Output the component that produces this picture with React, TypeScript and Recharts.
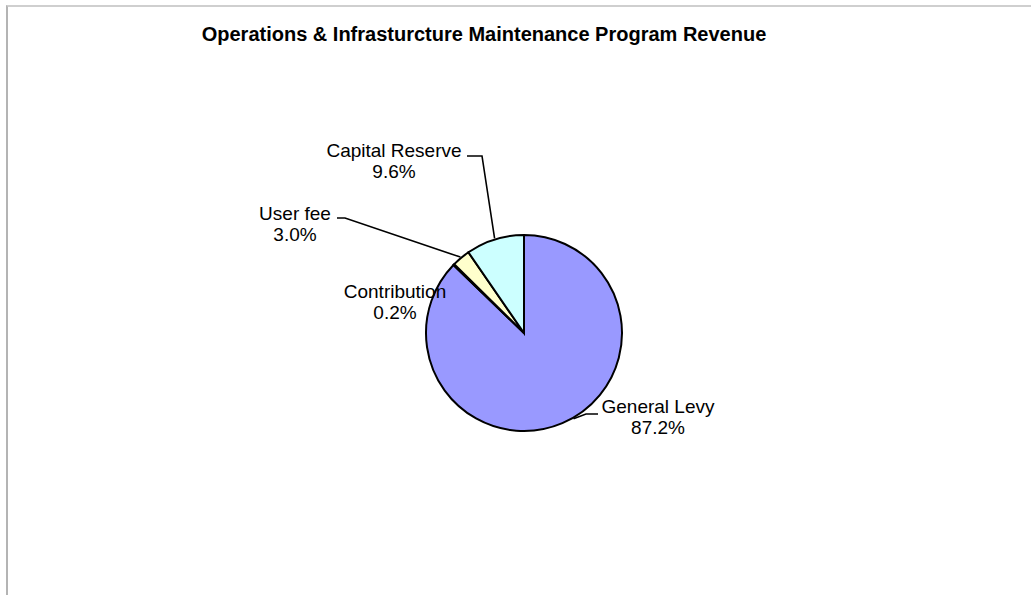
import React from 'react';
import { PieChart, Pie, Cell } from 'recharts';

const categories = ['General Levy', 'Contribution', 'User fee', 'Capital Reserve'];
const shares = [87.2, 0.2, 3.0, 9.6];
const sliceColors = ['#9999FF', '#993366', '#FFFFCC', '#CCFFFF'];
const chartTitle = 'Operations & Infrasturcture Maintenance Program Revenue';

// label placement relative to the pie centre (px); leader: [elbowStart, elbowEnd], anchor angle (deg) or null = midAngle
const labelLayout = [
  { tx: 134, ty: 80, leader: [[74, 81], [62, 81]], anchor: -60 },
  { tx: -129, ty: -35, leader: null, anchor: null },
  { tx: -229, ty: -113, leader: [[-187, -115], [-179, -115]], anchor: null },
  { tx: -130, ty: -176, leader: [[-57, -177], [-42, -177]], anchor: null },
];

const data = categories.map((name, i) => ({ name, value: shares[i] }));

const FONT = '"Liberation Sans", Arial, sans-serif';
const RAD = Math.PI / 180;

const renderLabel = (props: any) => {
  const { cx, cy, midAngle, outerRadius, index, percent } = props;
  const lay = labelLayout[index];
  const pct = (percent * 100).toFixed(1) + '%';
  let line = null;
  if (lay.leader) {
    const ang = (lay.anchor ?? midAngle) * RAD;
    const ex = cx + (outerRadius + 1) * Math.cos(ang);
    const ey = cy - (outerRadius + 1) * Math.sin(ang);
    const [a, b] = lay.leader;
    line = (
      <polyline
        points={`${cx + a[0]},${cy + a[1]} ${cx + b[0]},${cy + b[1]} ${ex},${ey}`}
        fill="none"
        stroke="#000"
        strokeWidth={1.6}
      />
    );
  }
  return (
    <g key={`lbl-${index}`}>
      {line}
      <text x={cx + lay.tx} y={cy + lay.ty} textAnchor="middle" fontFamily={FONT} fontSize={19} fill="#000">
        {categories[index]}
      </text>
      <text x={cx + lay.tx} y={cy + lay.ty + 21} textAnchor="middle" fontFamily={FONT} fontSize={19} fill="#000">
        {pct}
      </text>
    </g>
  );
};

export default function App() {
  return (
    <div style={{ position: 'absolute', left: 0, top: 0, width: 1031, height: 595, background: '#fff', overflow: 'hidden' }}>
      <div
        style={{
          position: 'absolute',
          left: 6,
          top: 5,
          width: 1030,
          height: 600,
          borderLeft: '2px solid #b4b4b4',
          borderTop: '2px solid #cfcfcf',
          boxSizing: 'border-box',
        }}
      />
      <div
        style={{
          position: 'absolute',
          left: 0,
          width: 968,
          top: 23,
          textAlign: 'center',
          fontFamily: FONT,
          fontWeight: 'bold',
          fontSize: 20,
          lineHeight: '23px',
          color: '#000',
        }}
      >
        {chartTitle}
      </div>
      <div style={{ position: 'absolute', left: 0, top: 0 }}>
        <PieChart width={1031} height={595} margin={{ top: 0, right: 0, bottom: 0, left: 0 }}>
          <Pie
            data={data}
            dataKey="value"
            nameKey="name"
            cx={524}
            cy={333}
            outerRadius={98}
            startAngle={90}
            endAngle={-270}
            stroke="#000"
            strokeWidth={2}
            isAnimationActive={false}
            label={renderLabel}
            labelLine={false}
          >
            {data.map((d, i) => (
              <Cell key={d.name} fill={sliceColors[i]} />
            ))}
          </Pie>
        </PieChart>
      </div>
    </div>
  );
}
